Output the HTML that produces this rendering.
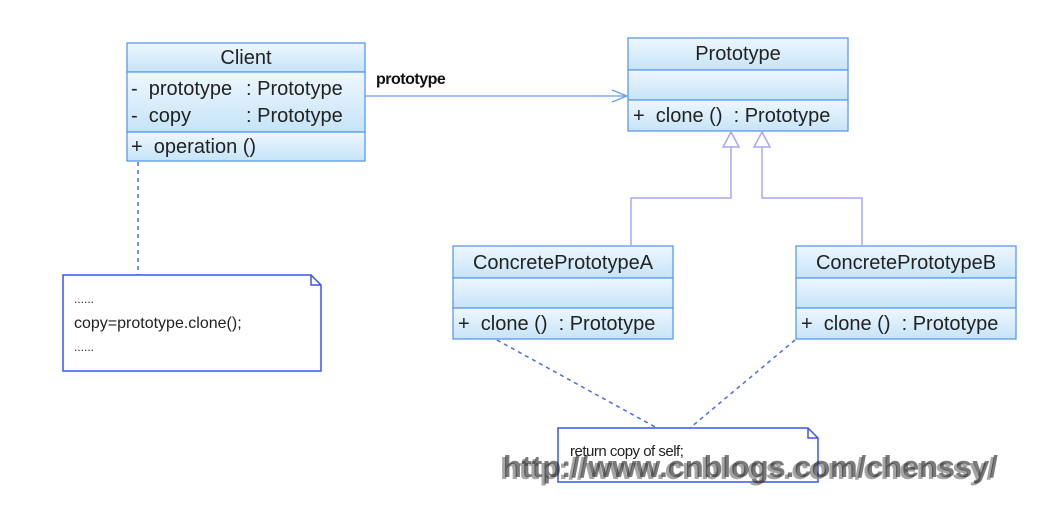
<!DOCTYPE html>
<html><head><meta charset="utf-8"><style>
body{margin:0;background:#fff;width:1054px;height:502px;overflow:hidden}
svg text{font-family:"Liberation Sans",sans-serif;white-space:pre}
</style></head><body>
<svg width="1054" height="502" xmlns="http://www.w3.org/2000/svg">
<defs>
<linearGradient id="g" x1="0" y1="0" x2="0" y2="1">
<stop offset="0" stop-color="#eef7fe"/><stop offset="1" stop-color="#c6e4f8"/></linearGradient>
</defs>
<g stroke="#5b9bea" stroke-width="1.3" fill="url(#g)">
<rect x="127" y="43" width="238" height="29"/><rect x="127" y="72" width="238" height="60"/><rect x="127" y="132" width="238" height="29"/>
<rect x="628" y="38" width="220" height="32"/><rect x="628" y="70" width="220" height="30"/><rect x="628" y="100" width="220" height="31"/>
<rect x="453" y="246" width="220" height="32"/><rect x="453" y="278" width="220" height="30"/><rect x="453" y="308" width="220" height="31"/>
<rect x="796" y="246" width="220" height="32"/><rect x="796" y="278" width="220" height="30"/><rect x="796" y="308" width="220" height="31"/>
</g>
<g font-size="20" fill="#222">
<text x="246" y="64" text-anchor="middle">Client</text>
<text x="131" y="95">-  prototype</text><text x="246" y="95">: Prototype</text>
<text x="131" y="122">-  copy</text><text x="246" y="122">: Prototype</text>
<text x="131" y="153">+  operation ()</text>
<text x="738" y="60" text-anchor="middle">Prototype</text>
<text x="633" y="122">+  clone ()  : Prototype</text>
<text x="563" y="269" text-anchor="middle">ConcretePrototypeA</text>
<text x="458" y="330">+  clone ()  : Prototype</text>
<text x="906" y="269" text-anchor="middle">ConcretePrototypeB</text>
<text x="801" y="330">+  clone ()  : Prototype</text>
</g>
<line x1="365" y1="96" x2="627" y2="96" stroke="#6a9ef0" stroke-width="1.3"/>
<polyline points="612,90 627,96 612,102" fill="none" stroke="#6a9ef0" stroke-width="1.3"/>
<text x="376" y="84" font-size="16" font-weight="bold" fill="#111" letter-spacing="-0.5">prototype</text>
<g stroke="#a6a8f5" stroke-width="1.5" fill="#fff">
<polyline points="731,147 731,198 631,198 631,246" fill="none"/>
<polyline points="762,147 762,198 862,198 862,246" fill="none"/>
<polygon points="731,132 723,147 739,147"/>
<polygon points="762,132 754,147 770,147"/>
</g>
<g stroke="#4a6ae8" stroke-width="1.5" stroke-dasharray="4,4" fill="none">
<line x1="138" y1="162" x2="138" y2="275"/>
<line x1="497" y1="340" x2="657" y2="428"/>
<line x1="795" y1="340" x2="690" y2="428"/>
</g>
<g stroke="#3b55e8" stroke-width="1.5" fill="#fff">
<path d="M63,275 H311 L321,285 V371 H63 Z"/><path d="M311,275 V285 H321" fill="none"/>
<path d="M558,428 H808 L818,438 V482 H558 Z"/><path d="M808,428 V438 H818" fill="none"/>
</g>
<g font-size="16" fill="#222">
<text x="74" y="303" font-size="12">......</text>
<text x="74" y="328">copy=prototype.clone();</text>
<text x="74" y="351" font-size="12">......</text>
<text x="570" y="456" font-size="15" letter-spacing="-0.5">return copy of self;</text>
</g>
<text x="500" y="479" font-size="31" font-weight="bold" fill="#888" opacity="0.75" textLength="495" lengthAdjust="spacingAndGlyphs">http://www.cnblogs.com/chenssy/</text>
<text x="503" y="477" font-size="31" font-weight="bold" fill="#222" opacity="0.6" textLength="495" lengthAdjust="spacingAndGlyphs">http://www.cnblogs.com/chenssy/</text>
</svg>
</body></html>
